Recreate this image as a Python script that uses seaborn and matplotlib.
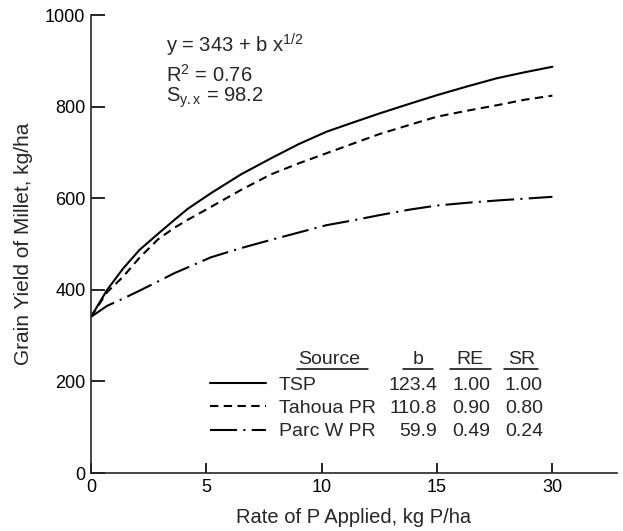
import pandas as pd
import seaborn as sns
import matplotlib.pyplot as plt

# Rate of P applied (axis position; last tick is labelled "30" as in the source figure)
rate = [0, 0.7, 1.4, 2.1, 2.9, 3.6, 4.2, 5.2, 6.5, 7.8, 9, 10.2, 11.4, 12.5, 13.8, 15, 16.3, 17.6, 18.8, 20]
# Grain yield, kg/ha
tsp = [341, 400, 447, 487, 522, 552, 577, 611, 652, 687, 718, 745, 766, 785, 806, 825, 844, 862, 875, 887]
tahoua = [341, 395, 429, 470, 510, 535, 553, 581, 618, 652, 676, 698, 720, 740, 760, 778, 791, 803, 815, 824]
parc = [341, 365, 381, 398, 418, 436, 449, 471, 491, 509, 525, 541, 552, 563, 575, 584, 590, 595, 599, 603]

sources = ['TSP', 'Tahoua PR', 'Parc W PR']
b_vals = ['123.4', '110.8', '59.9']
re_vals = ['1.00', '0.90', '0.49']
sr_vals = ['1.00', '0.80', '0.24']

x_ticks = [0, 5, 10, 15, 20]
x_ticklabels = ['0', '5', '10', '15', '30']
y_ticks = [0, 200, 400, 600, 800, 1000]

sns.set_style('ticks')
plt.rcParams['font.family'] = ['Liberation Sans', 'DejaVu Sans']
plt.rcParams['mathtext.fontset'] = 'custom'
plt.rcParams['mathtext.rm'] = 'Liberation Sans'
plt.rcParams['mathtext.it'] = 'Liberation Sans'

df = pd.DataFrame({'rate': rate, 'TSP': tsp, 'Tahoua PR': tahoua, 'Parc W PR': parc})
long = df.melt(id_vars='rate', var_name='source', value_name='yield')

W, H = 623, 531
fig = plt.figure(figsize=(W / 100, H / 100), dpi=100)
ax = fig.add_axes([91 / W, 1 - 473 / H, (617 - 91) / W, (473 - 15) / H])

styles = {
    'TSP': '-',
    'Tahoua PR': (0, (4.0, 2.6)),
    'Parc W PR': (0, (13, 3.0, 1, 3.0)),
}
for name in sources:
    sub = long[long['source'] == name]
    sns.lineplot(data=sub, x='rate', y='yield', ax=ax, color='black',
                 linewidth=1.5, linestyle=styles[name], label=name)

ax.set_xlim(0, 22.8)
ax.set_ylim(0, 1000)
ax.set_xticks(x_ticks)
ax.set_xticklabels(x_ticklabels)
ax.set_yticks(y_ticks)
sns.despine(ax=ax)
for side in ['left', 'bottom']:
    ax.spines[side].set_linewidth(1.2)
ax.tick_params(axis='both', direction='in', width=1.2, labelsize=13,
               colors='black', pad=4)
ax.tick_params(axis='y', length=10)
ax.tick_params(axis='x', length=7.5)

ax.set_xlabel('Rate of P Applied, kg P/ha', fontsize=14.5, labelpad=9)
ax.set_ylabel('Grain Yield of Millet, kg/ha', fontsize=15, labelpad=9)

# regression annotation
fs = 14.5
fig.text(166 / W, 1 - 45 / H, r'y = 343 + b x$^{1/2}$', fontsize=fs, va='center')
fig.text(166 / W, 1 - 75 / H, r'R$^{2}$ = 0.76', fontsize=fs, va='center')
fig.text(166 / W, 1 - 98 / H, r'S$_{\mathrm{y.x}}$ = 98.2', fontsize=fs, va='center')

# legend / table
tfs = 14
leg = ax.legend(loc='upper left', bbox_to_anchor=(210 / W, 1 - 376 / H),
                bbox_transform=fig.transFigure, frameon=False, fontsize=tfs,
                handlelength=2.9, handletextpad=0.65, labelspacing=0.3,
                borderaxespad=0, borderpad=0)

fig.canvas.draw()
inv = fig.transFigure.inverted()
rows_y = []
for t in leg.get_texts():
    bb = t.get_window_extent()
    rows_y.append(inv.transform(((bb.x0 + bb.x1) / 2, (bb.y0 + bb.y1) / 2))[1])

col_right = [437 / W, 490 / W, 543 / W]
for i, y in enumerate(rows_y):
    for j, vals in enumerate([b_vals, re_vals, sr_vals]):
        fig.text(col_right[j], y, vals[i], fontsize=tfs, ha='right', va='center')

head_y = 1 - 360 / H
fig.text(298 / W, head_y, 'Source', fontsize=tfs, ha='left', va='center')
fig.text(418 / W, head_y, 'b', fontsize=tfs, ha='center', va='center')
fig.text(470 / W, head_y, 'RE', fontsize=tfs, ha='center', va='center')
fig.text(522 / W, head_y, 'SR', fontsize=tfs, ha='center', va='center')
under_y = 1 - 369 / H
for x0, x1 in [(297, 368), (403, 433), (450, 491), (504, 538)]:
    fig.add_artist(plt.Line2D([x0 / W, x1 / W], [under_y, under_y],
                              transform=fig.transFigure, color='black', linewidth=1.1))

fig.savefig('out.png', dpi=100)
